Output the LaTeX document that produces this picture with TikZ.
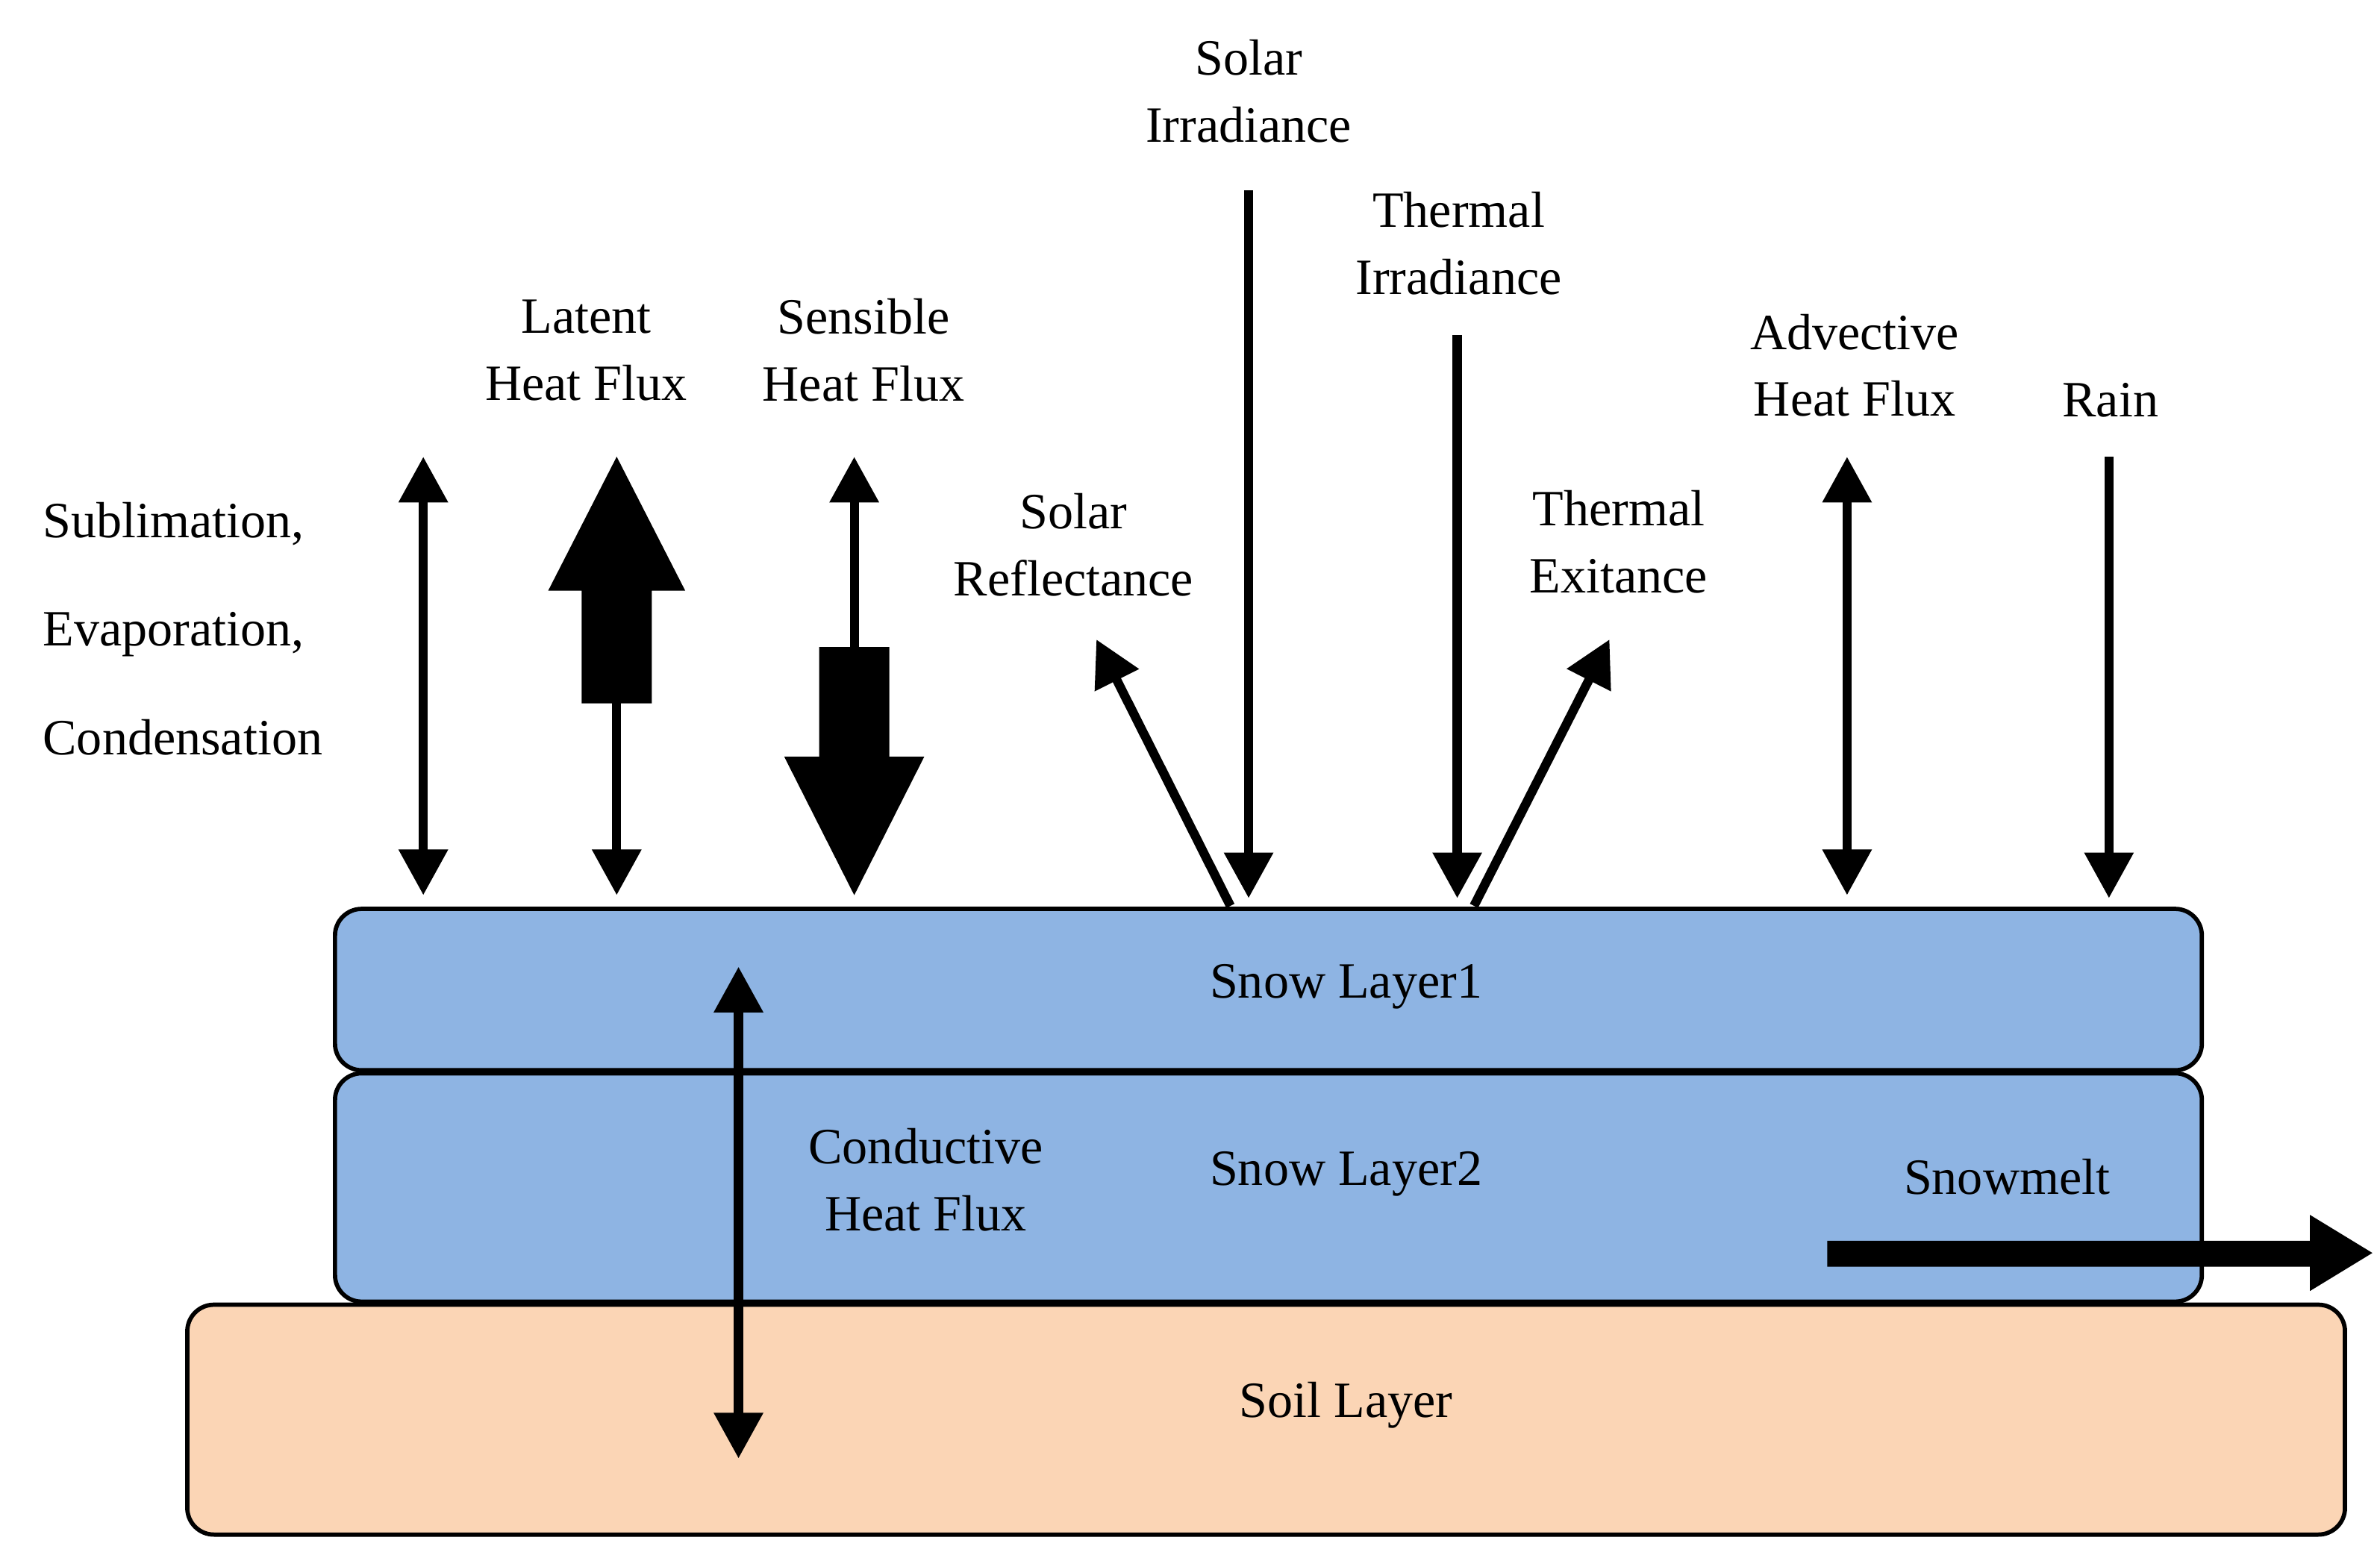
\documentclass[tikz,border=0pt]{standalone}
\usepackage{fontspec}
\setmainfont{Liberation Serif}
\usetikzlibrary{arrows.meta}
\definecolor{snow}{HTML}{8EB4E3}
\definecolor{soil}{HTML}{FBD5B5}
\begin{document}
\begin{tikzpicture}[x=0.02cm,y=-0.02cm,
  lay/.style={draw=black,line width=1.6pt,rounded corners=0.35cm},
  lbl/.style={font=\fontsize{19}{25}\selectfont,align=center},
  ar/.style={line width=3.4pt,-{Triangle[length=0.6cm,width=0.62cm]}},
  dar/.style={line width=3.4pt,{Triangle[length=0.6cm,width=0.62cm]}-{Triangle[length=0.6cm,width=0.62cm]}},
  blk/.style={fill=black,draw=none}]
\useasboundingbox (0,0) rectangle (1563,1023);
% layers
\draw[lay,fill=soil] (123,857) rectangle (1540,1008);
\draw[lay,fill=snow] (220,705) rectangle (1446,855);
\draw[lay,fill=snow] (220,597) rectangle (1446,703);
\node[lbl] (s1) at (884,648) {Snow Layer1};
\node[lbl] (s2) at (884,771) {Snow Layer2};
\node[lbl] (soilt) at (884,923) {Soil Layer};
\node[lbl] (cond) at (608,775) {Conductive\\Heat Flux};
\node[lbl] (melt) at (1318,773) {Snowmelt};
% text labels
\node[lbl,align=left] (sub) at (120,413) {Sublimation,\\[0.55cm]Evaporation,\\[0.55cm]Condensation};
\node[lbl] (lat) at (385,230) {Latent\\Heat Flux};
\node[lbl] (sen) at (567,230) {Sensible\\Heat Flux};
\node[lbl] (sir) at (820,60) {Solar\\Irradiance};
\node[lbl] (sre) at (705,358) {Solar\\Reflectance};
\node[lbl] (tir) at (958,160) {Thermal\\Irradiance};
\node[lbl] (tex) at (1063,356) {Thermal\\Exitance};
\node[lbl] (adv) at (1218,240) {Advective\\Heat Flux};
\node[lbl] (rain) at (1386,263) {Rain};
% coordinates
\coordinate (a1) at (278,300); \coordinate (a2) at (278,588);
\coordinate (l1) at (405,455); \coordinate (l2) at (405,588);
\coordinate (e1) at (561,300); \coordinate (e2) at (561,430);
\coordinate (i1) at (820,125); \coordinate (i2) at (820,590);
\coordinate (r1) at (808,595); \coordinate (r2) at (720,420);
\coordinate (t1) at (957,220); \coordinate (t2) at (957,590);
\coordinate (x1) at (968,595); \coordinate (x2) at (1057,420);
\coordinate (d1) at (1213,300); \coordinate (d2) at (1213,588);
\coordinate (n1) at (1385,300); \coordinate (n2) at (1385,590);
\coordinate (c1) at (485,635); \coordinate (c2) at (485,958);
% arrows
\draw[dar] (a1) -- (a2);
\draw[ar] (l1) -- (l2);
\draw[ar] (e2) -- (e1);
\draw[ar] (i1) -- (i2);
\draw[ar] (r1) -- (r2);
\draw[ar] (t1) -- (t2);
\draw[ar] (x1) -- (x2);
\draw[dar] (d1) -- (d2);
\draw[ar] (n1) -- (n2);
\draw[dar] (c1) -- (c2);
% big arrows
\fill[blk] (405,300) -- (450,388) -- (428,388) -- (428,462) -- (382,462) -- (382,388) -- (360,388) -- cycle;
\fill[blk] (561,588) -- (607,497) -- (584,497) -- (584,425) -- (538,425) -- (538,497) -- (515,497) -- cycle;
\fill[blk] (1200,815) -- (1517,815) -- (1517,798) -- (1558,823) -- (1517,848) -- (1517,832) -- (1200,832) -- cycle;
\end{tikzpicture}
\end{document}
